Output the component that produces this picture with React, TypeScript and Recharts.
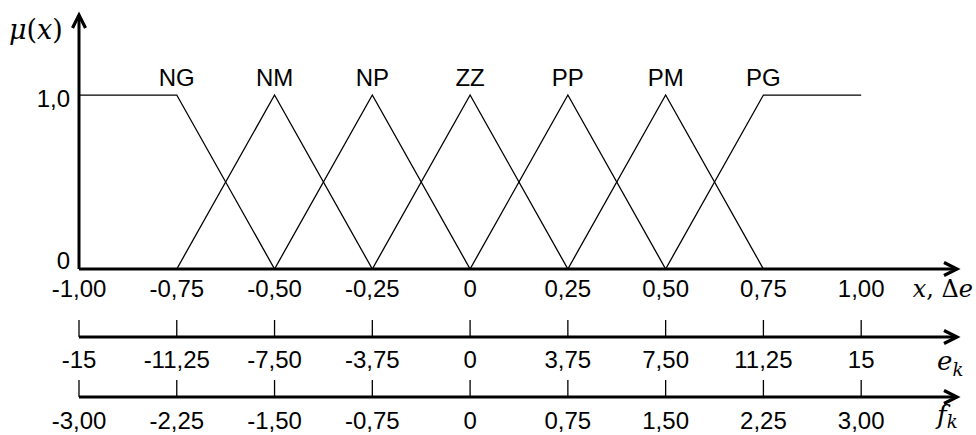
import React from 'react'
import { LineChart, Line, XAxis, YAxis, LabelList } from 'recharts'

// tick values of the three horizontal scales and the mu axis
const xTicks = [-1, -0.75, -0.5, -0.25, 0, 0.25, 0.5, 0.75, 1]
const ekTicks = [-15, -11.25, -7.5, -3.75, 0, 3.75, 7.5, 11.25, 15]
const fkTicks = [-3, -2.25, -1.5, -0.75, 0, 0.75, 1.5, 2.25, 3]
const yTicks = [0, 1]

// fuzzy sets: breakpoints [x, mu]
const setNames = ['NG', 'NM', 'NP', 'ZZ', 'PP', 'PM', 'PG']
const NG = [[-1, 1], [-0.75, 1], [-0.5, 0]]
const NM = [[-0.75, 0], [-0.5, 1], [-0.25, 0]]
const NP = [[-0.5, 0], [-0.25, 1], [0, 0]]
const ZZ = [[-0.25, 0], [0, 1], [0.25, 0]]
const PP = [[0, 0], [0.25, 1], [0.5, 0]]
const PM = [[0.25, 0], [0.5, 1], [0.75, 0]]
const PG = [[0.5, 0], [0.75, 1], [1, 1]]
const labelAt = [-0.75, -0.5, -0.25, 0, 0.25, 0.5, 0.75]

const series = [NG, NM, NP, ZZ, PP, PM, PG].map((pts, i) =>
  pts.map(([x, mu]) => ({ x, mu, tag: x === labelAt[i] ? setNames[i] : undefined }))
)
// the scaled axes e_k and f_k read their values from the chart data
const scaleRows = xTicks.map((x, i) => ({ x, ek: ekTicks[i], fk: fkTicks[i] }))

// axes run a bit past the last tick to leave room for the arrow
const X_END = 1.245
const Y_END = 1.46

const SANS = "'Liberation Sans', Arial, sans-serif"
const SERIF = "'DejaVu Serif', serif"

const comma = (v: number) => (v === 0 ? '0' : v.toFixed(2).replace('.', ','))
const commaEk = (v: number) =>
  Number.isInteger(v) ? String(v) : v.toFixed(2).replace('.', ',')

const BottomTick = (props: any) => {
  const { x, y, payload, fmt, dy, mark } = props
  return (
    <g>
      {mark && <line x1={x} x2={x} y1={y - 17} y2={y} stroke="#000" strokeWidth={1.3} />}
      <text x={x} y={y + dy} textAnchor="middle" fontSize={24} fontFamily={SANS} fill="#000">
        {fmt(payload.value)}
      </text>
    </g>
  )
}

const LeftTick = (props: any) => {
  const { x, y, payload } = props
  return (
    <text x={x - 9} y={y + (payload.value === 0 ? 0 : 12)} textAnchor="end" fontSize={24} fontFamily={SANS} fill="#000">
      {comma(payload.value).replace(',00', ',0')}
    </text>
  )
}

const axisLine = { stroke: '#000', strokeWidth: 3, markerEnd: 'url(#arrowHead)' }

function App() {
  return (
    <div style={{ position: 'absolute', left: 0, top: 0 }}>
      <svg width={0} height={0} style={{ position: 'absolute' }}>
        <defs>
          <marker id="arrowHead" markerUnits="userSpaceOnUse" markerWidth={20} markerHeight={20}
            refX={14} refY={8} orient="auto-start-reverse" overflow="visible">
            <path d="M1,1.5 L14,8 L1,14.5" fill="none" stroke="#000" strokeWidth={3.2} />
          </marker>
        </defs>
      </svg>
      <LineChart width={976} height={435} data={scaleRows} margin={{ top: 15, right: 19, bottom: 0, left: 0 }}>
        <XAxis xAxisId="a_main" dataKey="x" type="number" domain={[-1, X_END]} allowDataOverflow
          ticks={xTicks} interval={0} height={68} tickSize={0} tickMargin={0} tickLine={false}
          axisLine={axisLine}
          tick={(p: any) => <BottomTick {...p} fmt={comma} dy={28} />}
          label={(p: any) => {
            const vb = p.viewBox
            return (
              <text x={vb.x + vb.width + 16} y={vb.y + 28} textAnchor="end" fontSize={24} fontFamily={SERIF} fill="#000">
                <tspan fontStyle="italic">x</tspan>, Δ<tspan fontStyle="italic">e</tspan>
              </text>
            )
          }}
        />
        <XAxis xAxisId="b_ek" dataKey="ek" type="number" domain={[-15, 15 * X_END]} allowDataOverflow
          ticks={ekTicks} interval={0} height={60} tickSize={0} tickMargin={0} tickLine={false}
          axisLine={axisLine}
          tick={(p: any) => <BottomTick {...p} fmt={commaEk} dy={31} mark />}
          label={(p: any) => {
            const vb = p.viewBox
            return (
              <text x={vb.x + vb.width - 20} y={vb.y + 33} fontSize={26} fontFamily={SERIF} fill="#000">
                <tspan fontStyle="italic">e</tspan>
                <tspan fontStyle="italic" fontSize={18} dy={6}>k</tspan>
              </text>
            )
          }}
        />
        <XAxis xAxisId="c_fk" dataKey="fk" type="number" domain={[-3, 3 * X_END]} allowDataOverflow
          ticks={fkTicks} interval={0} height={38} tickSize={0} tickMargin={0} tickLine={false}
          axisLine={axisLine}
          tick={(p: any) => <BottomTick {...p} fmt={comma} dy={32} mark />}
          label={(p: any) => {
            const vb = p.viewBox
            return (
              <text x={vb.x + vb.width - 20} y={vb.y + 27} fontSize={26} fontFamily={SERIF} fill="#000">
                <tspan fontStyle="italic">f</tspan>
                <tspan fontStyle="italic" fontSize={18} dy={4}>k</tspan>
              </text>
            )
          }}
        />
        <YAxis type="number" domain={[0, Y_END]} allowDataOverflow ticks={yTicks} interval={0}
          width={79} tickSize={0} tickMargin={0} tickLine={false}
          axisLine={{ stroke: '#000', strokeWidth: 3, markerStart: 'url(#arrowHead)' }}
          tick={LeftTick}
          label={(p: any) => {
            const vb = p.viewBox
            return (
              <text x={vb.x + 9} y={vb.y + 24} fontSize={27} fontFamily={SERIF} fill="#000">
                <tspan fontStyle="italic">μ</tspan>(<tspan fontStyle="italic">x</tspan>)
              </text>
            )
          }}
        />
        {series.map((data, i) => (
          <Line key={setNames[i]} xAxisId="a_main" data={data} dataKey="mu" type="linear"
            stroke="#000" strokeWidth={1.3} dot={false} activeDot={false} isAnimationActive={false}>
            <LabelList dataKey="tag" content={(p: any) => {
              if (!p.value) return null
              const vb = p.viewBox || p
              return (
                <text x={vb.x + (vb.width || 0) / 2} y={vb.y - 9} textAnchor="middle"
                  fontSize={24} fontFamily={SANS} fill="#000">
                  {p.value}
                </text>
              )
            }} />
          </Line>
        ))}
      </LineChart>
    </div>
  )
}

export default App
